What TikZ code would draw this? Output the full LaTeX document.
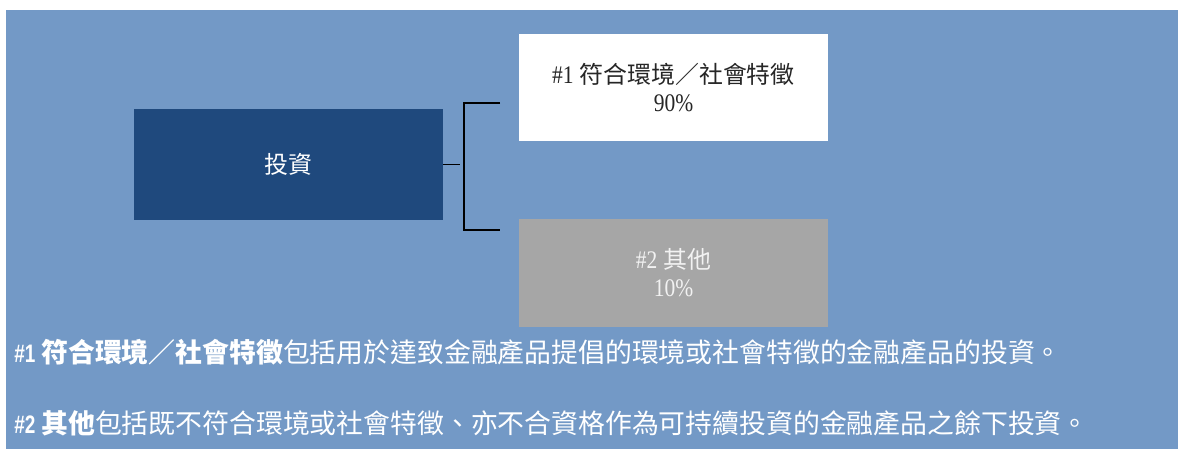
\documentclass[tikz,border=0pt]{standalone}
\usepackage{fontspec}
\setmainfont{Liberation Serif}
\newfontfamily\cjkfont{Noto Sans CJK TC}
\newfontfamily\latsans[FakeStretch=0.75]{Liberation Sans}
\newfontfamily\latserif[FakeStretch=0.85]{Liberation Serif}
\definecolor{bgblue}{HTML}{7399C6}
\definecolor{navybox}{HTML}{1F497D}
\definecolor{greybox}{HTML}{A6A6A6}
\newcommand{\latnum}[1]{{\latserif\fontsize{18}{20}\selectfont #1}}

\begin{document}
\begin{tikzpicture}[boxnode/.style={rectangle, minimum width=7.725cm, align=center, font=\fontsize{17}{20}\selectfont}, note/.style={anchor=base west, inner sep=0pt, text=white, font=\fontsize{19.1}{22}\selectfont\cjkfont}, bracket/.style={line width=1.4pt, black}]
       \fill[white] (0,0) rectangle (29.475,11.225);
       \fill[bgblue] (0.15,0) rectangle (29.45,10.975);
       \node[boxnode, fill=navybox, text=white, minimum height=2.775cm] (invest) at (7.2125,7.1125) {\cjkfont 投資};
       \node[boxnode, fill=white, text=black!85, minimum height=2.675cm] (esg) at (16.8375,9.0375) {\latnum{\#1} {\cjkfont 符合環境／社會特徵}\\\latnum{90\%}};
       \node[boxnode, fill=greybox, text=white!95!black, minimum height=2.7cm] (other) at (16.8375,4.4) {\latnum{\#2} {\cjkfont 其他}\\\latnum{10\%}};
       \coordinate (stub) at (11.5,7.125);
       \coordinate (brtop) at (12.5,8.65);
       \coordinate (brbot) at (12.5,5.475);
       \draw[bracket] (invest.east) -- (invest.east -| stub);
       \draw[bracket] (brtop) -- ++(-0.9,0) |- (brbot);
       \node[note] (noteesg) at (0.35,2.175) {{\latsans\bfseries\fontsize{18}{22}\selectfont \#1} {\bfseries 符合環境／社會特徵}包括用於達致金融產品提倡的環境或社會特徵的金融產品的投資。};
       \node[note] (noteother) at (0.35,0.4) {{\latsans\bfseries\fontsize{18}{22}\selectfont \#2} {\bfseries 其他}包括既不符合環境或社會特徵、亦不合資格作為可持續投資的金融產品之餘下投資。};
\end{tikzpicture}
\end{document}
